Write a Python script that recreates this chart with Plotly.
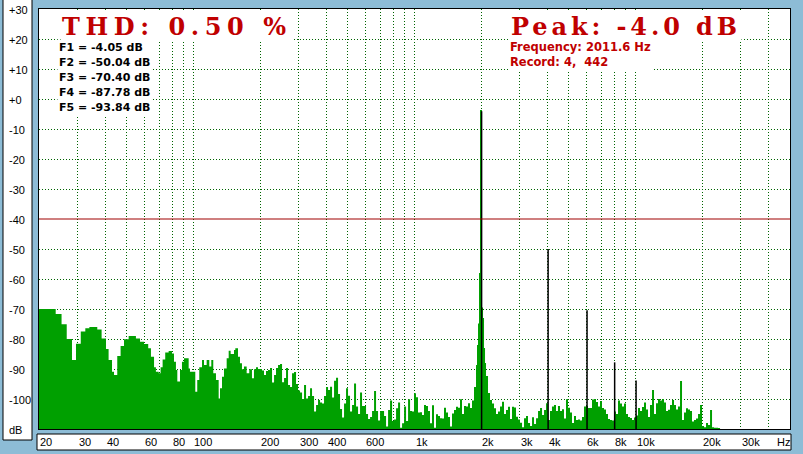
import numpy as np
import plotly.graph_objects as go

# ---------------- data ----------------
# spectrum, low band (20 Hz - 190 Hz)
low_freq_hz = [20, 23.8, 25.3, 26.7, 28.2, 29.4, 30.9, 32.4, 33.8, 36.7,
               38.4, 40.2, 41.3, 42.8, 43.7, 45.2, 46.8, 48.5, 50.9, 54.9,
               57.3, 59.7, 62.4, 64.2, 66.3, 67.6, 69.6, 71.0, 72.5, 74.5,
               77.2, 79.9, 81.6, 83.3, 84.5, 86.9, 88.7, 90.6, 95.1, 96.4,
               101.9, 104.0, 106.2, 109.3, 111.6, 114.7, 117.9, 120.4, 122.9, 126.4,
               130.0, 131.8, 134.6, 137.4, 141.3, 144.3, 147.3, 152.5, 154.6, 159.0,
               162.3, 165.7, 169.2, 174.0, 178.8, 183.9, 187.8]
low_level_db = [-70.0, -71.7, -75.1, -80.0, -87.0, -81.6, -77.5, -76.4, -76.0, -76.8,
                -79.8, -83.3, -87.0, -90.9, -92.0, -85.7, -82.3, -80.1, -79.0, -79.8,
                -80.9, -81.7, -83.1, -85.9, -89.4, -90.9, -91.4, -89.4, -86.8, -84.5,
                -84.0, -84.8, -87.6, -90.3, -94.2, -90.3, -87.6, -86.4, -89.8, -90.9,
                -97.6, -93.7, -89.4, -87.0, -88.7, -87.0, -89.2, -87.0, -91.4, -93.7,
                -99.8, -96.4, -92.6, -89.8, -86.4, -83.9, -85.0, -83.7, -83.1, -85.9,
                -88.1, -90.1, -89.2, -91.4, -90.1, -93.1, -90.1]

# spectrum, mid band (190 Hz - 1.04 kHz)
mid_freq_hz = [191.8, 195.9, 200.0, 204.2, 208.5, 212.9, 217.4, 222.0, 226.7, 231.5,
               236.3, 241.3, 246.4, 251.6, 256.9, 262.3, 267.8, 273.5, 279.2, 285.1,
               291.1, 297.3, 303.5, 309.9, 316.4, 323.1, 329.9, 336.8, 343.9, 351.2,
               358.6, 366.1, 373.8, 381.7, 389.7, 397.9, 406.3, 414.9, 423.6, 432.5,
               441.6, 450.9, 460.4, 470.1, 480.0, 490.1, 500.4, 510.9, 521.7, 532.7,
               543.9, 555.4, 567.1, 579.0, 591.2, 603.7, 616.4, 629.4, 642.6, 656.2,
               670.0, 684.1, 698.5, 713.2, 728.3, 743.6, 759.3, 775.3, 791.6, 808.3,
               825.3, 842.7, 860.4, 878.5, 897.0, 915.9, 935.2, 954.9, 975.0, 994.8,
               1015.8, 1037.2]
mid_level_db = [-89.4, -90.0, -90.0, -90.5, -92.0, -90.7, -90.3, -89.7, -94.5, -92.0,
                -89.7, -88.7, -88.3, -94.4, -93.0, -89.7, -95.3, -96.0, -91.4, -91.0,
                -95.0, -97.2, -97.8, -100.0, -95.3, -99.8, -99.0, -96.4, -99.0, -104.2,
                -102.0, -100.3, -101.2, -101.5, -99.0, -96.0, -97.0, -95.9, -99.5, -93.9,
                -92.9, -98.3, -103.3, -106.2, -101.5, -96.4, -98.9, -104.2, -102.0, -94.8,
                -102.5, -105.0, -97.8, -102.3, -102.3, -105.0, -106.7, -106.0, -104.0, -97.3,
                -104.0, -107.2, -104.0, -104.0, -105.7, -109.2, -103.7, -100.5, -107.3, -106.8,
                -103.1, -101.2, -109.6, -108.1, -102.5, -107.3, -100.1, -104.0, -104.2, -98.1,
                -99.4, -104.5]

# spectrum, fundamental band (1.06 kHz - 3.9 kHz)
fund_freq_hz = [1059.0, 1081.3, 1104.1, 1127.3, 1151.1, 1175.3, 1200.1, 1225.3, 1251.1, 1277.5,
                1304.4, 1331.9, 1359.9, 1388.6, 1417.8, 1447.7, 1478.2, 1509.3, 1541.1, 1573.5,
                1606.7, 1640.5, 1675.1, 1710.4, 1746.4, 1783.2, 1820.7, 1859.1, 1898.2, 1918.0,
                1938.2, 1958.4, 1979.0, 2020.7, 2042.0, 2063.3, 2085.0, 2106.7, 2151.1, 2196.4,
                2242.7, 2289.9, 2338.1, 2387.4, 2437.6, 2489.0, 2541.4, 2594.9, 2649.6, 2705.4,
                2762.4, 2820.5, 2879.9, 2940.6, 3002.5, 3065.7, 3130.3, 3196.2, 3263.5, 3332.3,
                3402.5, 3474.1, 3547.3, 3622.0, 3698.3, 3776.2, 3855.7]
fund_level_db = [-104.4, -105.3, -102.0, -102.3, -104.0, -108.1, -102.1, -109.6, -105.1, -105.7,
                 -106.4, -106.5, -102.9, -104.5, -106.0, -109.2, -104.8, -103.7, -102.6, -102.9,
                 -100.1, -105.0, -102.3, -102.5, -101.4, -103.0, -100.5, -96.0, -88.7, -82.0,
                 -74.8, -58.0, -3.7, -69.5, -73.0, -83.0, -88.0, -92.3, -98.0, -100.3,
                 -101.5, -103.1, -105.0, -104.2, -102.5, -100.9, -105.0, -103.7, -102.6, -106.7,
                 -102.6, -102.8, -105.9, -106.8, -107.9, -109.4, -106.4, -105.7, -108.0, -109.0,
                 -106.1, -108.3, -106.4, -104.0, -103.0, -105.3, -103.7]

# spectrum, high band (3.9 kHz - 24 kHz)
high_freq_hz = [3936.9, 4017, 4101.6, 4188.0, 4276.2, 4366.3, 4458.2, 4552.1, 4648.0, 4745.9,
                4845.9, 4948.0, 5052.2, 5158.6, 5267.2, 5378.2, 5491.4, 5607.1, 5725.2, 5845.8,
                5968.9, 6094.6, 6223, 6354, 6488, 6625, 6764, 6907, 7052, 7201,
                7352, 7507, 7665, 7827, 7992, 8160, 8332, 8508, 8687, 8870,
                9057, 9248, 9442, 9641, 9844, 10052, 10264, 10480, 10701, 10926,
                11156, 11391, 11631, 11876, 12126, 12382, 12642, 12908, 13180, 13458,
                13741, 14031, 14326, 14628, 14936, 15251, 15572, 15900, 16235, 16577,
                16926, 17283, 17647, 18018, 18398, 18785, 19181, 19585, 19997, 20418,
                20848, 21287, 21736, 22194, 22661, 23138, 23626, 24123]
high_level_db = [-101.4, -107.0, -104.0, -102.5, -102.0, -104.0, -102.3, -104.0, -103.4, -106.5,
                 -100.1, -102.9, -104.5, -108.0, -105.7, -107.0, -106.8, -107.2, -106.0, -102.5,
                 -102.3, -103.0, -103.0, -100.2, -100.0, -101.0, -102.5, -100.7, -103.0, -103.5,
                 -105.0, -106.7, -107.0, -107.2, -104.2, -105.0, -100.5, -101.5, -102.5, -101.5,
                 -105.0, -106.0, -106.3, -107.0, -106.2, -105.5, -103.0, -104.0, -102.7, -101.2,
                 -103.5, -106.0, -102.0, -97.0, -105.0, -101.4, -100.0, -100.5, -100.0, -101.2,
                 -104.0, -103.6, -102.0, -100.3, -102.0, -103.5, -102.5, -94.0, -107.0, -104.5,
                 -103.1, -103.5, -104.0, -107.5, -107.0, -106.5, -105.0, -102.0, -109.0, -109.4,
                 -108.0, -108.7, -103.7, -109.4, -109.6, -109.6, -109.7, -110.0]

# harmonics (F1..F5)
harm_freq_hz = [2011.6, 4023.2, 6034.8, 8046.4, 10058.0]
harm_level_db = [-4.05, -50.04, -70.40, -87.78, -93.84]

thd_percent = 0.50
peak_db = -4.0
peak_freq_hz = 2011.6
record_no = 4
record_pos = 442

x_tick_vals = [20, 30, 40, 60, 80, 100, 200, 300, 400, 600,
               1000, 2000, 3000, 4000, 6000, 8000, 10000, 20000, 30000]
x_tick_text = ["20", "30", "40", "60", "80", "100", "200", "300", "400", "600",
               "1k", "2k", "3k", "4k", "6k", "8k", "10k", "20k", "30k"]
x_grid_vals = [30, 40, 50, 60, 70, 80, 90, 100, 200, 300, 400, 500, 600, 700, 800, 900,
               1000, 2000, 3000, 4000, 5000, 6000, 7000, 8000, 9000, 10000, 20000, 30000, 40000]
y_tick_vals = [30, 20, 10, 0, -10, -20, -30, -40, -50, -60, -70, -80, -90, -100, -110]
y_tick_text = ["+30", "+20", "+10", "+0", "-10", "-20", "-30", "-40", "-50", "-60",
               "-70", "-80", "-90", "-100", "dB"]

freq_hz = low_freq_hz + mid_freq_hz + fund_freq_hz + high_freq_hz
level_db = low_level_db + mid_level_db + fund_level_db + high_level_db
assert len(freq_hz) == len(level_db)

# ---------------- styling ----------------
W, H = 803, 454
ML, MR, MT, MB = 39, 13, 9, 25
PW, PH = W - ML - MR, H - MT - MB
X_MIN, X_MAX = 20, 50000
Y_MIN, Y_MAX = -110, 30
BG = "#8DBCD6"
GREEN = "#00A000"
GRID = "#006400"
RED = "#C00000"


def px_x(p):
    return (p - ML) / PW


def px_y(p):
    return (H - MB - p) / PH


fig = go.Figure()

fig.add_trace(go.Scatter(x=[X_MIN, X_MAX], y=[Y_MIN, Y_MIN], mode="lines",
                         line=dict(width=0), hoverinfo="skip", showlegend=False))
fig.add_trace(go.Scatter(x=freq_hz, y=level_db, mode="lines",
                         line=dict(width=0, shape="hv", color=GREEN),
                         fill="tonexty", fillcolor=GREEN, showlegend=False))

hx, hy = [], []
for f, v in zip(harm_freq_hz, harm_level_db):
    hx += [f, f, None]
    hy += [Y_MIN, v, None]
fig.add_trace(go.Scatter(x=hx, y=hy, mode="lines", line=dict(color="black", width=1.5),
                         showlegend=False))

shapes = [
    dict(type="line", xref="paper", yref="y", x0=0, x1=1, y0=-40, y1=-40,
         line=dict(color="#A00000", width=1.2), layer="above"),
    dict(type="rect", xref="paper", yref="paper", x0=px_x(3), x1=px_x(32),
         y0=px_y(440), y1=px_y(-3), fillcolor="white", line=dict(color="black", width=1)),
    dict(type="rect", xref="paper", yref="paper", x0=px_x(37), x1=px_x(791),
         y0=px_y(450), y1=px_y(434), fillcolor="white", line=dict(color="black", width=1)),
]

ann = []
tick_font = dict(family="Liberation Sans, Arial, sans-serif", size=11, color="black")
for v, t in zip(y_tick_vals, y_tick_text):
    ann.append(dict(x=px_x(7), xref="paper", y=v, yref="y", text=t, showarrow=False,
                    xanchor="left", yanchor="middle", yshift=-1, font=tick_font))
for v, t in zip(x_tick_vals, x_tick_text):
    ann.append(dict(x=np.log10(v), xref="x", y=px_y(442), yref="paper", text=t,
                    showarrow=False, xanchor="left", yanchor="middle", xshift=-1,
                    font=tick_font))
ann.append(dict(x=px_x(775), xref="paper", y=px_y(442), yref="paper", text="Hz",
                showarrow=False, xanchor="left", yanchor="middle", font=tick_font))

big_font = dict(family="DejaVu Serif, Liberation Serif, serif", size=24, color=RED,
                weight="bold")
ann.append(dict(x=px_x(61), xref="paper", y=px_y(11), yref="paper",
                text='<span style="letter-spacing:5.6px">THD: %.2f %%</span>' % thd_percent,
                showarrow=False, xanchor="left", yanchor="top", bgcolor="white",
                borderpad=0, font=big_font))
ann.append(dict(x=px_x(510), xref="paper", y=px_y(11), yref="paper",
                text='<span style="letter-spacing:3.9px">Peak: %.1f dB</span>' % peak_db,
                showarrow=False, xanchor="left", yanchor="top", bgcolor="white",
                borderpad=0, font=big_font))

small_font = dict(family="DejaVu Sans, sans-serif", size=11.6, color="black", weight="bold")
f_lines = "<br>".join('<span style="font-size:11px">F%d = %.2f dB</span>' % (i + 1, v)
                      for i, v in enumerate(harm_level_db))
ann.append(dict(x=px_x(57), xref="paper", y=px_y(39), yref="paper", text=f_lines,
                showarrow=False, xanchor="left", yanchor="top", align="left",
                bgcolor="white", borderpad=1, font=small_font))
info = "Frequency: %.1f Hz<br>Record: %d,\u00a0 %d" % (peak_freq_hz, record_no, record_pos)
ann.append(dict(x=px_x(508), xref="paper", y=px_y(38), yref="paper", text=info,
                showarrow=False, xanchor="left", yanchor="top", align="left",
                bgcolor="white", borderpad=1, font=dict(small_font, color=RED, size=11.5)))

axis_common = dict(showgrid=True, gridcolor=GRID, gridwidth=1, griddash="1px,2px",
                   showticklabels=False, ticks="", zeroline=False, showline=True,
                   mirror=True, linecolor="black", linewidth=1, fixedrange=True)

fig.update_layout(
    width=W, height=H, autosize=False,
    margin=dict(l=ML, r=MR, t=MT, b=MB, pad=0),
    paper_bgcolor=BG, plot_bgcolor="white",
    xaxis=dict(type="log", range=[np.log10(X_MIN), np.log10(X_MAX)],
               tickvals=x_grid_vals, **axis_common),
    yaxis=dict(range=[Y_MIN, Y_MAX],
               tickvals=[v for v in y_tick_vals if v not in (Y_MIN, Y_MAX, -40)],
               **axis_common),
    shapes=shapes, annotations=ann, showlegend=False,
)

fig.write_html("out.html", config={"displayModeBar": False},
               post_script="document.body.style.margin='0';"
                           "document.body.style.background='%s';" % BG)
